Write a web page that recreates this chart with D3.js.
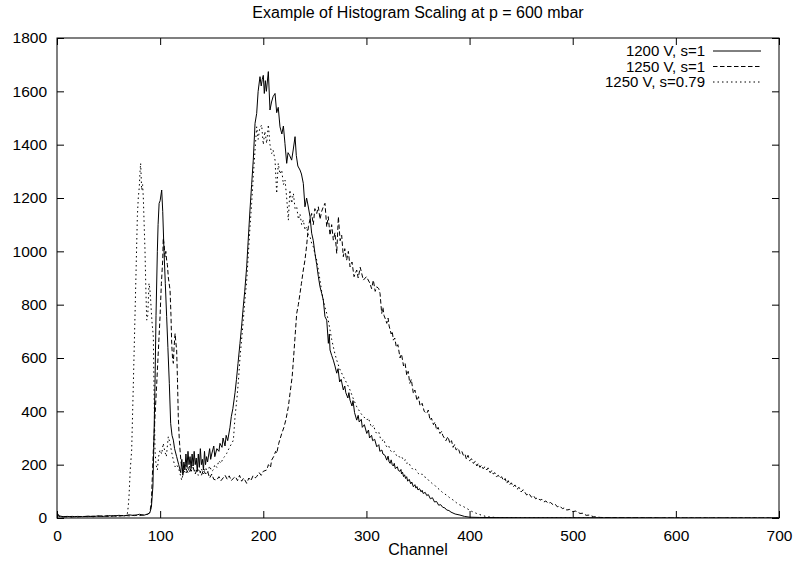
<!DOCTYPE html>
<html>
<head>
<meta charset="utf-8">
<script src="https://cdn.jsdelivr.net/npm/d3@7"></script>
<style>
  body { margin: 0; background: #fff; }
  svg text { font-family: "Liberation Sans", Arial, sans-serif; fill: #000; }
</style>
</head>
<body>
<div id="graph"></div>
<script>
  // [channel, counts]
  const s1200 = [[0,20],[2,8],[6,5],[10,6],[15,4],[20,6],[25,5],[30,7],[35,5],[40,8],[45,6],[50,9],[55,7],[60,10],[65,8],[70,12],[75,9],[80,14],[84,10],[88,15],[90,20],[91.5,40],[93,120],[94,300],[95,500],[96,760],[97.3,1000],[98,1100],[99,1180],[100,1190],[101.5,1230],[102.5,1150],[103.7,1005],[105,880],[106.3,755],[107.5,640],[108.9,505],[110.2,355],[111.5,310],[112.8,292],[114,260],[116,230],[118,200],[119.3,180],[120,170],[121,220],[122,160],[123,210],[124,180],[125,240],[126,190],[127,250],[128,200],[129,230],[130,185],[131,240],[132,195],[133,250],[134,200],[135,225],[136,175],[137,240],[138,190],[139,260],[140,200],[141,220],[142,180],[143,250],[144,200],[145,230],[146,210],[148,260],[149,220],[150,240],[152,270],[153,230],[155,260],[157,250],[158,280],[160,265],[161,300],[162.9,270],[164,310],[165.5,290],[167.7,340],[169,380],[170.5,410],[172.6,470],[174,520],[175.5,580],[177.4,655],[179,720],[180.6,792],[182,850],[183.9,942],[185.5,1050],[187.1,1155],[188.7,1250],[190.3,1342],[192,1480],[193.6,1517],[195,1600],[196.8,1655],[198,1620],[199,1645],[200,1660],[201,1592],[202,1640],[203,1600],[204.9,1674],[206.5,1530],[208,1560],[209.5,1580],[211.4,1592],[213,1520],[214.5,1540],[216.2,1467],[218,1440],[219.5,1470],[221,1405],[222.7,1330],[224,1370],[225.5,1360],[227.5,1342],[229,1380],[230.8,1430],[232,1360],[233.5,1320],[235.6,1305],[237,1290],[238.8,1255],[240.4,1167],[242,1200],[243.5,1170],[245.3,1130],[246.9,1068],[248.5,1040],[250.1,992],[251.8,950],[253.4,905],[255,867],[256.6,843],[258.2,817],[259.8,755],[261.5,742],[263.1,655],[264,690],[264.7,630],[266.3,610],[267.9,592],[269.5,570],[271.2,543],[272.5,560],[274,510],[275.5,520],[277.6,480],[279,495],[280,470],[282,450],[283,470],[284.1,442],[286,420],[287,440],[288.5,395],[290.6,367],[292,385],[293,360],[295,370],[296,340],[298,350],[300.3,317],[302,330],[303,300],[305,310],[306,290],[308,295],[310,267],[312,275],[313,250],[315,255],[316,240],[318,235],[319.7,217],[321,232],[322,210],[323,205],[324,218],[325,200],[326,195],[327,205],[328,185],[330,192],[331,178],[332.6,175],[333.5,182],[334,165],[335,172],[336,155],[337,162],[338,148],[339,155],[340,138],[341.5,145],[343,128],[344,135],[345.5,117],[347,125],[348,112],[349,118],[350,105],[351.5,110],[353,98],[354,104],[355,92],[357,96],[358.5,84],[360,88],[362,72],[364,76],[366,60],[368,62],[370,48],[372,50],[374,40],[376,38],[377.8,30],[380,28],[382,22],[386,15],[390.7,11],[395,6],[400,3],[410,2],[450,1],[500,1],[600,0],[700,0]];

  const s1250 = [[0,15],[2,6],[6,4],[10,5],[15,6],[20,4],[25,6],[30,5],[35,7],[40,6],[45,8],[50,6],[55,9],[60,7],[65,10],[70,8],[75,11],[80,9],[84,12],[88,14],[90,20],[91.5,60],[93.4,255],[95,380],[96.7,505],[98.3,630],[99.9,755],[101.2,880],[102.5,967],[103,1050],[104,1020],[104.7,980],[105.5,1000],[106.3,967],[107,950],[108,900],[109.6,855],[110.5,760],[111.2,655],[112,600],[112.8,580],[113.5,640],[114.5,692],[115.2,660],[116,630],[116.8,520],[117.6,380],[118.5,300],[119.3,255],[120.2,210],[121,190],[122.5,175],[124,200],[125.7,180],[127,170],[128.5,195],[130,175],[132,190],[134,165],[136,185],[138.6,174],[140,160],[142,180],[144,165],[146,175],[148,150],[150,165],[152,145],[154.8,142],[157,155],[159,140],[161,150],[163,160],[165,145],[167,158],[169,140],[171,149],[173,155],[175,140],[177,160],[179,138],[181,150],[183.9,130],[186,150],[188,140],[190,158],[192,150],[193.6,155],[196,170],[198,160],[200,175],[203.3,180],[205,200],[207,190],[208.1,217],[210,230],[212,250],[213,242],[215,280],[217.9,317],[220,340],[222,370],[224.3,417],[226,470],[228,530],[229.2,592],[230.8,680],[232.4,767],[234,800],[235.6,842],[237,880],[238.8,930],[240.4,967],[242,1020],[243.7,1092],[245.3,1120],[246.9,1142],[248.5,1100],[250,1160],[251.8,1142],[253.4,1167],[255,1120],[256.6,1150],[258.2,1167],[259.8,1180],[261.5,1092],[263,1130],[264.7,1060],[266.3,1100],[267.9,1042],[269.5,1070],[271.2,992],[272.8,1130],[274.5,1040],[276,1060],[277.6,980],[279,1010],[280.8,967],[282.5,1000],[284.1,942],[286,960],[288,905],[290.6,930],[292,900],[294,940],[297,892],[300,905],[303.4,880],[305,860],[306.7,892],[308.5,850],[310,867],[312,860],[313.2,842],[314.8,767],[316,790],[317,760],[318.5,745],[319.7,730],[321,750],[322,720],[323,705],[324,690],[325,700],[326.1,667],[327.5,675],[329,640],[330.5,650],[332.6,600],[334,615],[336,570],[337.5,580],[339.1,535],[340.5,550],[342,505],[343.5,520],[345.5,467],[347,480],[349,440],[350.5,455],[352,420],[354,430],[356,400],[358.5,392],[360,405],[361.6,367],[363,375],[365,350],[366.5,360],[368,330],[369.5,340],[371.3,317],[373,325],[374,310],[375.5,300],[377,290],[379,305],[381,280],[382.5,290],[384,265],[385.5,275],[387,255],[389,262],[390.7,242],[392.5,250],[394,235],[395.5,240],[397,220],[398.5,235],[400,215],[402,222],[403.6,205],[405.5,212],[407,195],[408.5,205],[410,190],[411.5,198],[413,185],[415,192],[416.6,180],[418,188],[420,170],[421.5,178],[423,165],[424.5,170],[426,155],[428,160],[429.5,149],[431,155],[433,140],[434.5,148],[436,130],[437.5,140],[439,125],[440.5,132],[442.4,117],[444,124],[446,108],[448,115],[450,98],[452,106],[455.4,86],[457.5,92],[460,78],[462,84],[464,72],[466,76],[468.3,67],[470,70],[472,60],[474,64],[476,55],[478.5,58],[481.2,49],[483,52],[485,42],[487.5,45],[490,35],[492,38],[494.2,30],[497,32],[500,24],[503,26],[507.1,17],[510,18],[513,10],[516,11],[520,5],[527,2],[540,1],[600,0],[700,0]];

  const s1250scaled = [[0,6],[5,4],[10,5],[15,4],[20,6],[25,5],[30,6],[35,5],[40,7],[45,6],[50,8],[55,6],[60,9],[65,8],[68,10],[69,40],[69.8,80],[71,180],[72.4,255],[74,500],[75.6,755],[76.8,950],[77.9,1130],[78.8,1200],[79.8,1242],[80.5,1300],[81.1,1330],[82.1,1230],[83,1250],[83.7,1200],[84.5,1100],[85.3,1005],[86.2,850],[87,742],[88,760],[89.2,880],[90,860],[90.8,817],[92,740],[93.4,680],[94.2,450],[95,255],[96,200],[97.3,180],[98.5,230],[99.9,255],[101.5,240],[103,280],[104.5,250],[106,230],[107.9,305],[109.6,280],[111,250],[112.8,217],[114.5,192],[116,200],[118,185],[120.9,142],[123,180],[125,165],[127,190],[129,170],[131,200],[133,175],[135,185],[137,160],[138.6,167],[140,185],[142,165],[144,190],[146,170],[148,195],[150,175],[151.5,180],[153,200],[155,190],[157,215],[159,205],[161,225],[162.5,230],[164.5,242],[166,255],[168,270],[169.5,280],[171,292],[172.6,380],[174.5,450],[176,520],[177.4,600],[179,670],[180.6,740],[182,810],[183.9,890],[185.5,990],[187.1,1090],[188.7,1180],[190.3,1280],[192,1380],[193.6,1467],[195,1420],[196.5,1460],[198.4,1474],[200,1400],[201.5,1450],[203.3,1405],[204.9,1475],[206.5,1400],[208.1,1367],[209.5,1380],[211.4,1342],[213,1217],[214.5,1330],[216.2,1290],[217.9,1305],[219.5,1250],[221.1,1267],[222.7,1200],[224.3,1117],[225.8,1230],[227.5,1180],[229.2,1217],[230.8,1160],[232.4,1167],[234,1120],[235.6,1140],[237.2,1100],[238.8,1117],[240.4,1080],[242,1092],[243.7,1060],[245.3,1055],[246.9,1030],[248.5,1017],[250.1,990],[251.8,967],[253.4,930],[255,892],[256.6,850],[258.2,817],[259.8,790],[261.5,767],[263.1,740],[264.7,705],[266.3,670],[267.9,642],[269.5,615],[271.2,592],[274,560],[277.6,530],[281,505],[284.1,480],[287,450],[290.6,417],[295,390],[300.3,367],[302,375],[303.5,355],[305,340],[307,348],[308.5,325],[310,317],[312,322],[313.5,300],[315,290],[317,295],[318,278],[319.7,267],[321.5,272],[323,255],[325,245],[327,250],[329,235],[330.5,238],[332.6,225],[334.5,228],[336,215],[338,218],[339,205],[341,208],[343,192],[345.5,180],[347.5,183],[350,168],[352,162],[354,165],[356,155],[358.5,150],[361,138],[363,132],[365,125],[367,120],[369,112],[371.3,105],[374,95],[376,90],[378,85],[381,75],[384.2,67],[387,58],[390,50],[393.5,44],[397.2,36],[402,25],[406.9,17],[412,10],[416.6,5],[425,2],[450,1],[550,0],[700,0]];

  const seriesNames = ['1200 V, s=1', '1250 V, s=1', '1250 V, s=0.79'];
  const seriesDash = [null, '4.5,2.5', '1.5,3'];
  const xTicks = [0, 100, 200, 300, 400, 500, 600, 700];
  const yTicks = [0, 200, 400, 600, 800, 1000, 1200, 1400, 1600, 1800];

  const width = 796, height = 570;
  const margin = {top: 38, right: 17, bottom: 52, left: 57};
  const fs = 15.5;

  const svg = d3.select('#graph').append('svg')
      .attr('width', width)
      .attr('height', height);

  const x = d3.scaleLinear().domain([0, 700]).range([margin.left, width - margin.right]);
  const y = d3.scaleLinear().domain([0, 1800]).range([height - margin.bottom, margin.top]);

  svg.append('defs').append('clipPath').attr('id', 'clip')
    .append('rect')
      .attr('x', margin.left).attr('y', margin.top)
      .attr('width', x(700) - x(0)).attr('height', y(0) - y(1800));

  const tickLen = 7;

  // bottom axis + top mirror ticks
  svg.append('g')
      .attr('transform', `translate(0,${y(0)})`)
      .call(d3.axisBottom(x).tickValues(xTicks).tickSize(-tickLen).tickPadding(12).tickFormat(d3.format('d')))
      .call(g => g.select('.domain').remove())
      .call(g => g.selectAll('text').attr('font-size', fs).attr('font-family', 'Liberation Sans, Arial, sans-serif'));
  svg.append('g')
      .attr('transform', `translate(0,${y(1800)})`)
      .call(d3.axisTop(x).tickValues(xTicks).tickSize(-tickLen).tickFormat(''))
      .call(g => g.select('.domain').remove());

  // left axis + right mirror ticks
  svg.append('g')
      .attr('transform', `translate(${x(0)},0)`)
      .call(d3.axisLeft(y).tickValues(yTicks).tickSize(-tickLen).tickPadding(10).tickFormat(d3.format('d')))
      .call(g => g.select('.domain').remove())
      .call(g => g.selectAll('text').attr('font-size', fs).attr('font-family', 'Liberation Sans, Arial, sans-serif'));
  svg.append('g')
      .attr('transform', `translate(${x(700)},0)`)
      .call(d3.axisRight(y).tickValues(yTicks).tickSize(-tickLen).tickFormat(''))
      .call(g => g.select('.domain').remove());

  svg.selectAll('.tick line').attr('stroke', '#000');

  // frame
  svg.append('rect')
      .attr('x', x(0)).attr('y', y(1800))
      .attr('width', x(700) - x(0)).attr('height', y(0) - y(1800))
      .attr('fill', 'none').attr('stroke', '#000');

  const line = d3.line()
      .x(d => x(d[0]))
      .y(d => y(d[1]));

  const data = [s1200, s1250, s1250scaled];

  svg.append('g').attr('clip-path', 'url(#clip)')
    .selectAll('path')
    .data(data)
    .join('path')
      .attr('d', line)
      .attr('fill', 'none')
      .attr('stroke', '#000')
      .attr('stroke-width', 1)
      .attr('stroke-dasharray', (d, i) => seriesDash[i]);

  // legend
  const legend = svg.append('g');
  seriesNames.forEach((name, i) => {
    const cy = 51 + i * 15.5;
    legend.append('text')
        .attr('x', 705).attr('y', cy)
        .attr('dy', '0.35em')
        .attr('text-anchor', 'end')
        .attr('font-size', 15)
        .text(name);
    legend.append('line')
        .attr('x1', 713).attr('x2', 761)
        .attr('y1', cy).attr('y2', cy)
        .attr('stroke', '#000')
        .attr('stroke-dasharray', seriesDash[i]);
  });

  svg.append('text')
      .attr('x', (x(0) + x(700)) / 2).attr('y', 18)
      .attr('text-anchor', 'middle')
      .attr('font-size', 16)
      .text('Example of Histogram Scaling at p = 600 mbar');

  svg.append('text')
      .attr('x', (x(0) + x(700)) / 2).attr('y', 555)
      .attr('text-anchor', 'middle')
      .attr('font-size', 16)
      .text('Channel');
</script>
</body>
</html>
